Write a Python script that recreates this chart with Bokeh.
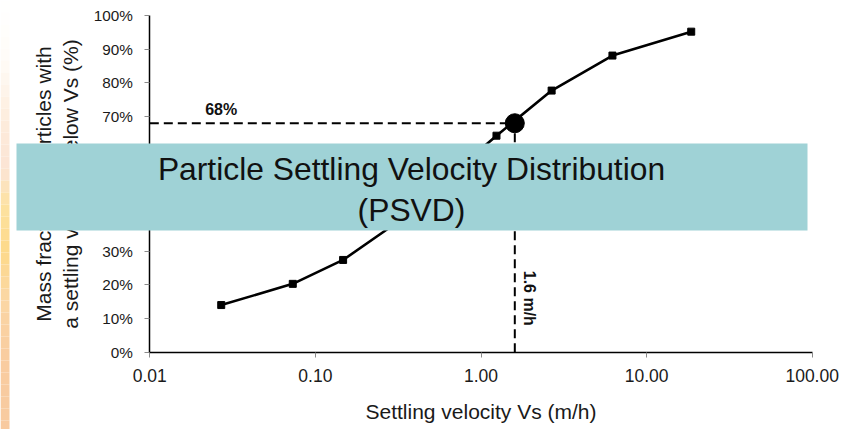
import math
from bokeh.plotting import figure
from bokeh.models import FixedTicker, Label, BoxAnnotation
from bokeh.embed import file_html
from bokeh.resources import INLINE

# ---- data ----
velocity = [0.027, 0.073, 0.147, 0.30, 0.60, 1.24, 2.67, 6.22, 18.6]      # m/h
mass_fraction = [14.0, 20.3, 27.4, 38.0, 51.0, 64.3, 77.7, 88.1, 95.2]   # %
d50_velocity = [1.6]
d50_fraction = [68.0]
x_axis_start = [0.01]
y_axis_start = [0.0]
x_bounds = (0.01, 100)
y_bounds = (0, 100)
x_ticks = [0.01, 0.1, 1, 10, 100]
x_tick_labels = ["0.01", "0.10", "1.00", "10.00", "100.00"]
y_ticks = [0, 10, 20, 30, 40, 50, 60, 70, 80, 90, 100]
y_tick_labels = ["0%", "10%", "20%", "30%", "40%", "50%", "60%", "70%", "80%", "90%", "100%"]
title_lines = ["Particle Settling Velocity Distribution", "(PSVD)"]
x_title = "Settling velocity Vs (m/h)"
y_title = "Mass fraction of particles with\na settling velocity below Vs (%)"
d50_fraction_label = "68%"
d50_velocity_label = "1.6 m/h"

FONT = "Liberation Sans"
W, H = 845, 429
# pixel placement of the plotting area inside the slide
AX_L, AX_R, AX_T, AX_B = 149.3, 811.7, 15.0, 351.7

# the frame covers the whole slide; axes are pinned at the plot-area edges
dec_per_px = (math.log10(x_bounds[1]) - math.log10(x_bounds[0])) / (AX_R - AX_L)
x_lo = 10 ** (math.log10(x_bounds[0]) - AX_L * dec_per_px)
x_hi = 10 ** (math.log10(x_bounds[1]) + (W - AX_R) * dec_per_px)
u_per_px = (y_bounds[1] - y_bounds[0]) / (AX_B - AX_T)
y_hi = y_bounds[1] + AX_T * u_per_px
y_lo = y_bounds[0] - (H - AX_B) * u_per_px

p = figure(width=W, height=H, x_axis_type="log", x_range=(x_lo, x_hi), y_range=(y_lo, y_hi),
           output_backend="svg", toolbar_location=None, min_border=0)
p.outline_line_color = None
p.grid.grid_line_color = None
p.background_fill_color = "white"
p.border_fill_color = "white"

# axes
p.xaxis.ticker = FixedTicker(ticks=x_ticks)
p.xaxis.major_label_overrides = {t: l for t, l in zip(x_ticks, x_tick_labels)}
p.yaxis.ticker = FixedTicker(ticks=y_ticks)
p.yaxis.major_label_overrides = {t: l for t, l in zip(y_ticks, y_tick_labels)}
p.xaxis.fixed_location = y_bounds[0]
p.yaxis.fixed_location = x_bounds[0]
p.xaxis.bounds = x_bounds
p.yaxis.bounds = y_bounds
for ax in (p.xaxis, p.yaxis):
    ax.axis_line_color = "black"
    ax.axis_line_width = 1.5
    ax.major_tick_line_color = "#8a8a8a"
    ax.major_tick_line_width = 1
    ax.major_tick_in = 0
    ax.major_tick_out = 5
    ax.minor_tick_line_color = None
    ax.major_label_text_font = FONT
    ax.major_label_text_color = "#1a1a1a"
    ax.axis_label_text_font = FONT
    ax.axis_label_text_font_style = "normal"
    ax.axis_label_text_color = "#1a1a1a"
    ax.axis_label_text_font_size = "21px"

p.xaxis.major_label_text_font_size = "17.5px"
p.xaxis.major_label_standoff = 12
p.xaxis.axis_label = x_title
p.xaxis.axis_label_standoff = 14

p.yaxis.major_label_text_font_size = "15.3px"
p.yaxis.major_label_standoff = 12
p.yaxis.axis_label = y_title
p.yaxis.axis_label_standoff = 8

# guide lines to the 68% / 1.6 m/h point
p.line(x_axis_start + d50_velocity, d50_fraction + d50_fraction, line_color="black",
       line_width=2, line_dash="9 5")
p.line(d50_velocity + d50_velocity, y_axis_start + d50_fraction, line_color="black",
       line_width=2, line_dash="9 5")

# distribution curve
p.line(velocity, mass_fraction, line_color="black", line_width=2.6)
p.scatter(velocity, mass_fraction, marker="square", size=7, color="black")
p.scatter(d50_velocity, d50_fraction, marker="circle", size=19, color="black")

# annotation texts
p.add_layout(Label(x=0.027, y=d50_fraction[0] + 1.5,
                   text=d50_fraction_label, text_font=FONT, text_font_style="bold",
                   text_font_size="16px", text_align="center", text_baseline="bottom",
                   text_color="#111111"))
p.add_layout(Label(x=d50_velocity[0], x_offset=6, y=16, text=d50_velocity_label,
                   angle=-math.pi / 2, text_font=FONT, text_font_style="bold",
                   text_font_size="16px", text_align="center", text_baseline="bottom",
                   text_color="#111111"))


def panel(left, top, right, bottom, color, level):
    return BoxAnnotation(left=left, right=right, top=top, bottom=bottom,
                         left_units="canvas", right_units="canvas",
                         top_units="canvas", bottom_units="canvas",
                         fill_color=color, fill_alpha=1, line_color=None, level=level)


# slide decoration: orange gradient strip on the left edge
stops = [(0, (255, 255, 255)), (60, (255, 252, 247)), (120, (253, 236, 220)),
         (170, (252, 228, 212)), (205, (253, 226, 160)), (250, (253, 217, 138)),
         (300, (251, 215, 165)), (350, (249, 205, 160)), (429, (248, 202, 160))]


def col_at(yy):
    for (y0, c0), (y1, c1) in zip(stops[:-1], stops[1:]):
        if y0 <= yy <= y1:
            f = (yy - y0) / (y1 - y0)
            return "#%02x%02x%02x" % tuple(int(round(a + (b - a) * f)) for a, b in zip(c0, c1))
    return "#%02x%02x%02x" % stops[-1][1]


step = 12
for yy in range(0, H, step):
    p.add_layout(panel(0, yy, 9, yy + step, col_at(yy + step / 2), "underlay"))

# title box overlapping the chart
p.add_layout(panel(16, 143, 807, 230, "#9fd2d6", "annotation"))
for txt, yy in zip(title_lines, [168, 209]):
    p.add_layout(Label(x=411, y=yy, x_units="canvas", y_units="canvas", text=txt,
                       text_font=FONT, text_font_size="31.8px", text_align="center",
                       text_baseline="middle", text_color="#111111", level="annotation"))

open("out.html", "w").write(file_html(p, INLINE))
